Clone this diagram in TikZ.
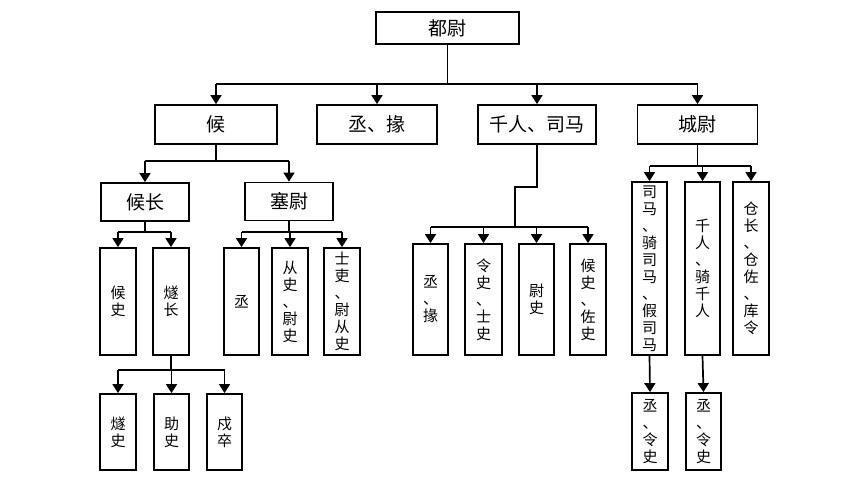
\documentclass[tikz,border=0pt]{standalone}
\usepackage{fontspec}
\newfontfamily\cjk{Noto Sans CJK SC}
\usetikzlibrary{arrows.meta}
\begin{document}
\begin{tikzpicture}[x=1pt,y=-1pt,
  hbox/.style={draw,line width=1.8pt,inner sep=0pt,font=\cjk\fontsize{19}{20}\selectfont},
  vbox/.style={draw,line width=1.8pt,inner sep=0pt,align=center,font=\cjk\fontsize{15}{17}\selectfont},
  ln/.style={line width=1.7pt},
  arr/.style={line width=1.7pt,-{Triangle[length=9pt,width=11pt]}}]
\useasboundingbox (0,0) rectangle (850,486);
% level 0
\node[hbox,minimum width=143pt,minimum height=32pt] (dw) at (447.5,28) {都尉};
% level 1
\node[hbox,minimum width=122pt,minimum height=39pt] (hou) at (216,124.5) {候};
\node[hbox,minimum width=120pt,minimum height=39pt] (cy) at (377,124.5) {丞、掾};
\node[hbox,minimum width=118pt,minimum height=39pt] (qr) at (537,124.5) {千人、司马};
\node[hbox,minimum width=120pt,minimum height=39pt] (cw) at (697.5,124.5) {城尉};
% level 2 left
\node[hbox,minimum width=88pt,minimum height=38pt] (hz) at (145,202) {候长};
\node[hbox,minimum width=88pt,minimum height=38pt] (sw) at (289,201.5) {塞尉};
% level 3 left
\node[vbox,minimum width=36pt,minimum height=107pt] (hs) at (118,301.5) {候\\史};
\node[vbox,minimum width=36pt,minimum height=107pt] (sz) at (171,301.5) {燧\\长};
\node[vbox,minimum width=35pt,minimum height=107pt] (cc) at (241.5,301.5) {丞};
\node[vbox,minimum width=36pt,minimum height=107pt] (cs) at (290,301.5) {从\\史\\、\\尉\\史};
\node[vbox,minimum width=36pt,minimum height=107pt] (sl) at (342,301.5) {士\\吏\\、\\尉\\从\\史};
% level 4 left
\node[vbox,minimum width=36pt,minimum height=76pt] (ssh) at (118,432) {燧\\史};
\node[vbox,minimum width=35pt,minimum height=76pt] (zs) at (171.5,432) {助\\史};
\node[vbox,minimum width=35pt,minimum height=76pt] (sc) at (224.5,432) {戍\\卒};
% under qianren
\node[vbox,minimum width=35pt,minimum height=111pt] (q1) at (430.5,299.5) {丞\\、\\掾};
\node[vbox,minimum width=37pt,minimum height=111pt] (q2) at (483.5,299.5) {令\\史\\、\\士\\史};
\node[vbox,minimum width=35pt,minimum height=111pt] (q3) at (536.5,299.5) {尉\\史};
\node[vbox,minimum width=36pt,minimum height=111pt] (q4) at (588,299.5) {候\\史\\、\\佐\\史};
% under chengwei
\node[vbox,minimum width=35pt,minimum height=173pt] (c1) at (649.5,268.5) {司\\马\\、\\骑\\司\\马\\、\\假\\司\\马};
\node[vbox,minimum width=35pt,minimum height=173pt] (c2) at (702.5,268.5) {千\\人\\、\\骑\\千\\人};
\node[vbox,minimum width=36pt,minimum height=173pt] (c3) at (751,268.5) {仓\\长\\、\\仓\\佐\\、\\库\\令};
\node[vbox,minimum width=36pt,minimum height=77pt] (b1) at (650,431.5) {丞\\、\\令\\史};
\node[vbox,minimum width=35pt,minimum height=77pt] (b2) at (703.5,431.5) {丞\\、\\令\\史};
% connectors: top
\coordinate (t0) at (447.5,84);
\draw[ln] (dw.south) -- (t0);
\draw[ln] (hou.north |- t0) -- (cw.north |- t0);
\foreach \n in {hou,cy,qr,cw} \draw[arr] (\n.north |- t0) -- (\n.north);
% hou
\coordinate (t1) at (216,161);
\draw[ln] (hou.south) -- (t1);
\draw[ln] (hz.north |- t1) -- (sw.north |- t1);
\foreach \n in {hz,sw} \draw[arr] (\n.north |- t1) -- (\n.north);
% houzhang
\coordinate (t2) at (145,232);
\draw[ln] (hz.south) -- (t2);
\draw[ln] (hs.north |- t2) -- (sz.north |- t2);
\foreach \n in {hs,sz} \draw[arr] (\n.north |- t2) -- (\n.north);
% saiwei
\coordinate (t3) at (289,232);
\draw[ln] (sw.south) -- (t3);
\draw[ln] (cc.north |- t3) -- (sl.north |- t3);
\foreach \n in {cc,cs,sl} \draw[arr] (\n.north |- t3) -- (\n.north);
% suizhang
\coordinate (t4) at (171,370);
\draw[ln] (sz.south) -- (t4);
\draw[ln] (ssh.north |- t4) -- (sc.north |- t4);
\foreach \n in {ssh,zs,sc} \draw[arr] (\n.north |- t4) -- (\n.north);
% qianren
\coordinate (k1) at (537,187);
\coordinate (k2) at (515,187);
\coordinate (t5) at (515,227);
\draw[ln] (qr.south) -- (k1) -- (k2) -- (t5);
\draw[ln] (q1.north |- t5) -- (q4.north |- t5);
\foreach \n in {q1,q2,q3,q4} \draw[arr] (\n.north |- t5) -- (\n.north);
% chengwei
\coordinate (t6) at (697.5,166);
\draw[ln] (cw.south) -- (t6);
\draw[ln] (c1.north |- t6) -- (c3.north |- t6);
\foreach \n in {c1,c2,c3} \draw[arr] (\n.north |- t6) -- (\n.north);
\draw[arr] (c1.south) -- (b1.north);
\draw[arr] (c2.south) -- (b2.north);
\end{tikzpicture}
\end{document}
